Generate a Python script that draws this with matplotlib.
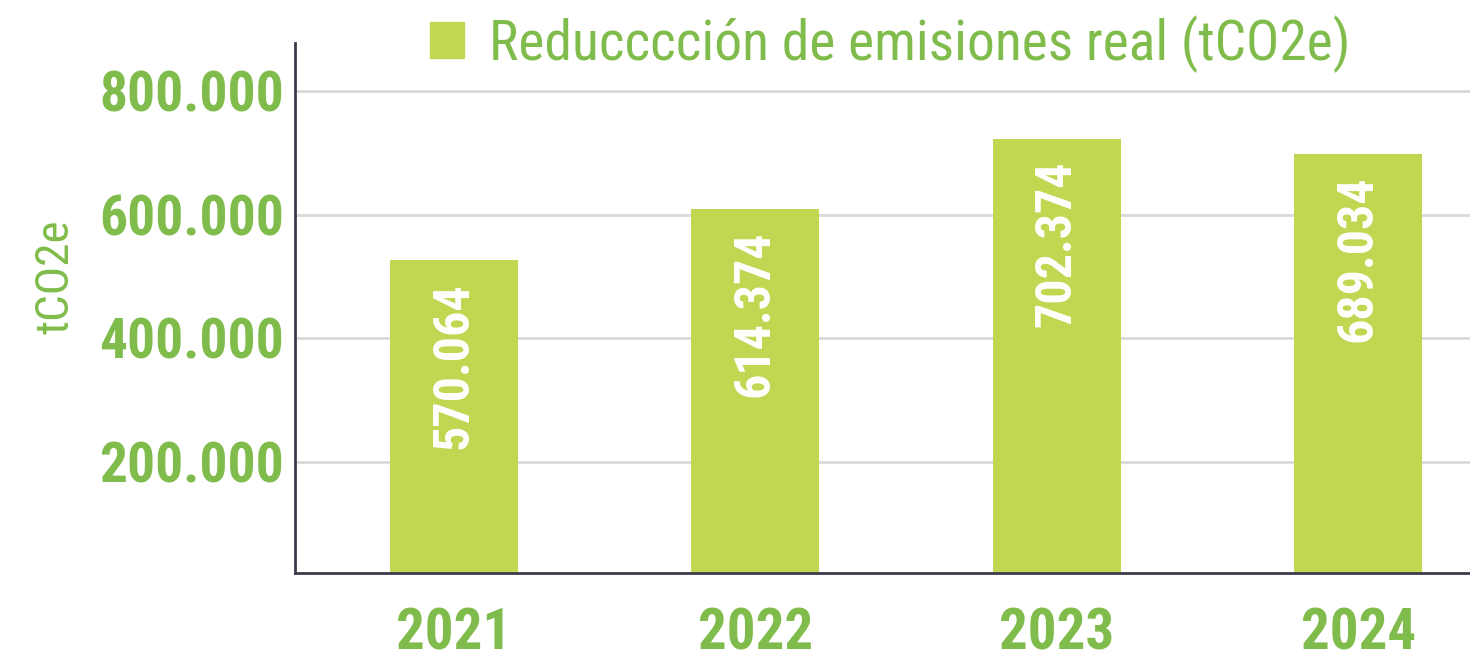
import matplotlib
matplotlib.use("Agg")
import matplotlib.pyplot as plt
from matplotlib.patches import Patch

# Data
years = ["2021", "2022", "2023", "2024"]
bar_heights = [527000, 610000, 723000, 699000]   # heights as drawn
value_labels = ["570.064", "614.374", "702.374", "689.034"]
yticks = [200000, 400000, 600000, 800000]
ytick_labels = ["200.000", "400.000", "600.000", "800.000"]
legend_label = "Reducccción de emisiones real (tCO2e)"
ylabel = "tCO2e"

GREEN = "#80bc4b"
BAR = "#c1d751"
COND = ["Roboto Condensed", "Liberation Sans Narrow", "DejaVu Sans Condensed", "Roboto"]

fig = plt.figure(figsize=(14.7, 6.69), dpi=100)
ax = fig.add_axes([295 / 1470, 1 - 573 / 669, 1175 / 1470, (573 - 43) / 669])

x = list(range(len(years)))
ax.bar(x, bar_heights, width=0.425, color=BAR, zorder=2)

# value labels sit a fixed distance below each bar top
for xi, h, lab in zip(x, bar_heights, value_labels):
    ax.annotate(lab, xy=(xi, h), xytext=(0, -16), textcoords="offset points",
                rotation=90, ha="center", va="top", color="white",
                fontsize=36, fontweight="bold", family=COND)

ax.set_xlim(-0.527, 3.371)
ax.set_ylim(20500, 877800)
ax.set_yticks(yticks)
ax.set_yticklabels(ytick_labels, color=GREEN, fontsize=40, fontweight="bold", family=COND)
ax.set_xticks(x)
ax.set_xticklabels(years, color=GREEN, fontsize=41, fontweight="bold", family=COND)
ax.tick_params(axis="both", length=0)
ax.tick_params(axis="y", pad=8)
ax.tick_params(axis="x", pad=24)

ax.grid(axis="y", color="#d9d9d9", linewidth=2, zorder=0)
ax.set_axisbelow(True)
for s in ["top", "right"]:
    ax.spines[s].set_visible(False)
for s in ["left", "bottom"]:
    ax.spines[s].set_color("#3b3b4b")
    ax.spines[s].set_linewidth(2)

fig.text(55 / 1470, 1 - 277 / 669, ylabel, rotation=90, ha="center", va="center",
         color=GREEN, fontsize=34, family=COND)

fig.legend(handles=[Patch(color=BAR, label=legend_label)],
           loc="center", bbox_to_anchor=(890 / 1470, 1 - 44 / 669), frameon=False,
           prop={"family": COND, "size": 40}, labelcolor=GREEN,
           handlelength=0.62, handleheight=0.62, handletextpad=0.45)

fig.savefig("out.png", dpi=100)
